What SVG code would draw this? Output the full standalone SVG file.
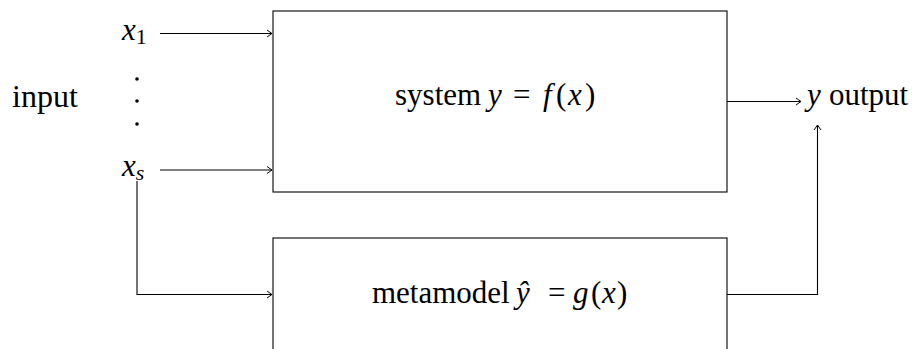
<svg xmlns="http://www.w3.org/2000/svg" width="920" height="349" viewBox="0 0 920 349">
<style>
.m{font-style:italic}
.box{fill:#fff;stroke:#000;stroke-width:1.1}
.ln{fill:none;stroke:#000;stroke-width:1.1}
</style>
<defs>
<marker id="ah" viewBox="-6 -5 8 10" markerWidth="8" markerHeight="10" refX="0" refY="0" orient="auto" markerUnits="userSpaceOnUse">
<path d="M-5,-3.5 Q-1.5,-1 0,0 Q-1.5,1 -5,3.5" fill="none" stroke="#000" stroke-width="1"/>
</marker>
</defs>
<rect width="920" height="349" fill="#fff"/>
<g id="input-label"><text font-family="Liberation Serif" font-size="32" x="12" y="107">input</text></g>
<g id="x1"><text font-family="Liberation Serif" font-size="31" x="122" y="40"><tspan class="m">x</tspan><tspan font-size="22" dy="4">1</tspan></text></g>
<g id="dots">
<circle cx="137" cy="79" r="1.8" fill="#000"/>
<circle cx="137" cy="101" r="1.8" fill="#000"/>
<circle cx="137" cy="124" r="1.8" fill="#000"/>
</g>
<g id="xs"><text font-family="Liberation Serif" font-size="31" x="122" y="176"><tspan class="m">x</tspan><tspan class="m" font-size="22" dy="4">s</tspan></text></g>
<g id="system">
<rect class="box" x="273" y="11" width="454" height="181"/>
<text font-family="Liberation Serif" font-size="31" x="395" y="105">system<tspan class="m" x="488">y</tspan><tspan x="513">=</tspan><tspan class="m" x="543">f</tspan><tspan x="556">(</tspan><tspan class="m" x="568">x</tspan><tspan x="585">)</tspan></text>
</g>
<g id="metamodel">
<rect class="box" x="273" y="238" width="454" height="130"/>
<text font-family="Liberation Serif" font-size="31" x="372" y="303">metamodel<tspan class="m" x="516">ŷ</tspan><tspan x="548">=</tspan><tspan class="m" x="573">g</tspan><tspan x="591">(</tspan><tspan class="m" x="602">x</tspan><tspan x="617">)</tspan></text>
</g>
<g id="output"><text font-family="Liberation Serif" font-size="31" x="807" y="105"><tspan class="m">y</tspan><tspan x="829">output</tspan></text></g>
<g id="connectors">
<line class="ln" x1="160" y1="33.5" x2="272" y2="33.5" marker-end="url(#ah)"/>
<line class="ln" x1="160" y1="170" x2="272" y2="170" marker-end="url(#ah)"/>
<polyline class="ln" points="137,181 137,294.5 272,294.5" marker-end="url(#ah)"/>
<line class="ln" x1="727" y1="101.5" x2="801" y2="101.5" marker-end="url(#ah)"/>
<polyline class="ln" points="727,294.5 817.5,294.5 817.5,125" marker-end="url(#ah)"/>
</g>
</svg>
